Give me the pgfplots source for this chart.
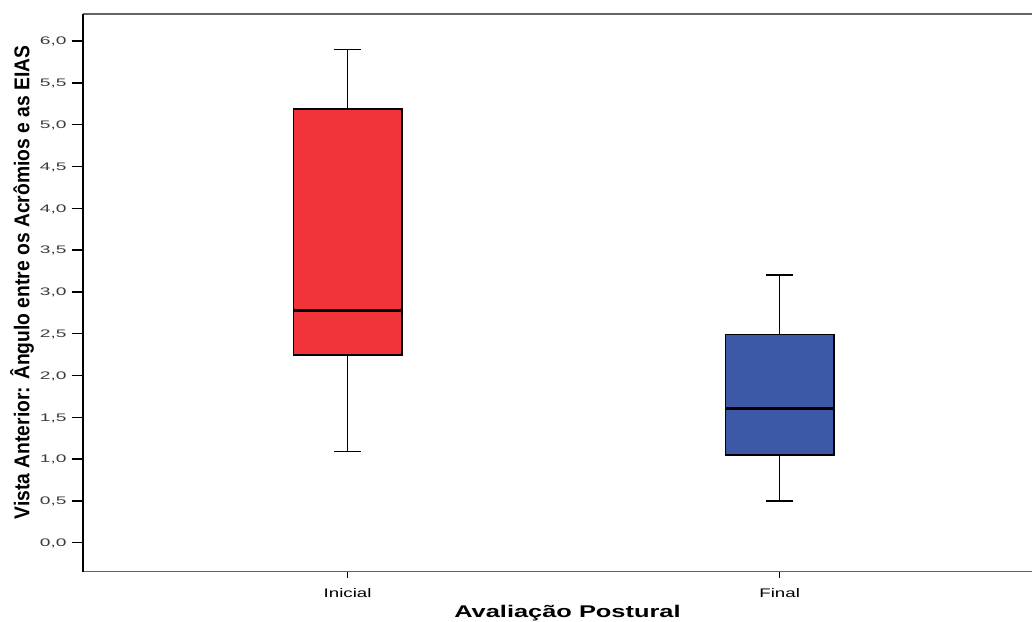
\documentclass[border=0pt]{standalone}
\usepackage{pgfplots}
\pgfplotsset{compat=1.18}
\usepgfplotslibrary{statistics}
\usepackage{fontspec}
\setmainfont{Liberation Sans}
\newfontfamily\widefont[FakeStretch=1.5]{Liberation Sans}
\newfontfamily\tickfont[FakeStretch=1.75]{Liberation Sans}
\newfontfamily\ylabfont[FakeStretch=0.9]{Liberation Sans}
\definecolor{boxred}{RGB}{240,52,58}
\definecolor{boxblue}{RGB}{62,88,168}
\definecolor{framegray}{RGB}{100,100,100}
\definecolor{tickgray}{RGB}{60,60,60}
\begin{document}
\begin{tikzpicture}
\useasboundingbox (-82.7bp,-50.3bp) rectangle (949.3bp,571.7bp);
\begin{axis}[
  at={(0,0)}, anchor=south west,
  scale only axis, width=949.3bp, height=557.7bp,
  xmin=0.387, xmax=2.584, ymin=-0.347, ymax=6.324,
  clip=false,
  axis line style={draw=none},
  xtick={1,2}, xticklabels={Inicial,Final},
  ytick={0,0.5,1,1.5,2,2.5,3,3.5,4,4.5,5,5.5,6},
  /pgf/number format/fixed, /pgf/number format/fixed zerofill,
  /pgf/number format/precision=1, /pgf/number format/use comma,
  /pgf/number format/assume math mode=true,
  yticklabel style={font=\tickfont\fontsize{11}{13}\selectfont, text=tickgray, anchor=base east, inner sep=0pt, xshift=-5bp, yshift=-3.8bp},
  xticklabel style={font=\widefont\fontsize{12.5}{14}\selectfont, text=black, anchor=base, inner sep=0pt, yshift=-15bp},
  tick align=outside,
  major tick length=11bp,
  xtick style={/pgfplots/major tick length=6.5bp},
  ytick pos=left, xtick pos=bottom,
  tick style={black, line width=1.5bp},
  xlabel={\widefont\bfseries\fontsize{17}{19}\selectfont Avaliação Postural},
  xlabel style={at={(axis description cs:0.5107,-0.083)}, anchor=base, inner sep=0pt},
  ylabel={\ylabfont\bfseries\fontsize{21.5}{24}\selectfont Vista Anterior: Ângulo entre os Acrômios e as EIAS},
  ylabel style={at={(axis description cs:-0.0639,0.5186)}, anchor=center, inner sep=0pt},
  boxplot/draw direction=y,
  boxplot/every box/.style={line width=1.5bp},
  boxplot/every whisker/.style={line width=1.6bp},
  boxplot/every median/.style={line width=3bp},
]
\addplot[boxplot prepared={lower whisker=1.09, lower quartile=2.245, median=2.78, upper quartile=5.19, upper whisker=5.90, draw position=1, box extend=0.251, whisker extend=0.0625},
  fill=boxred, draw=black, line width=1.5bp] coordinates {};
\addplot[boxplot prepared={lower whisker=0.50, lower quartile=1.05, median=1.60, upper quartile=2.49, upper whisker=3.20, draw position=2, box extend=0.251, whisker extend=0.0625},
  fill=boxblue, draw=black, line width=1.5bp] coordinates {};
\draw[framegray, line width=1.4bp] (rel axis cs:0,1) -- (rel axis cs:1,1);
\draw[framegray, line width=1.4bp] (rel axis cs:0,0) -- (rel axis cs:1,0);
\draw[black, line width=2.2bp] (rel axis cs:0,0) -- (rel axis cs:0,1);
\end{axis}
\end{tikzpicture}
\end{document}
